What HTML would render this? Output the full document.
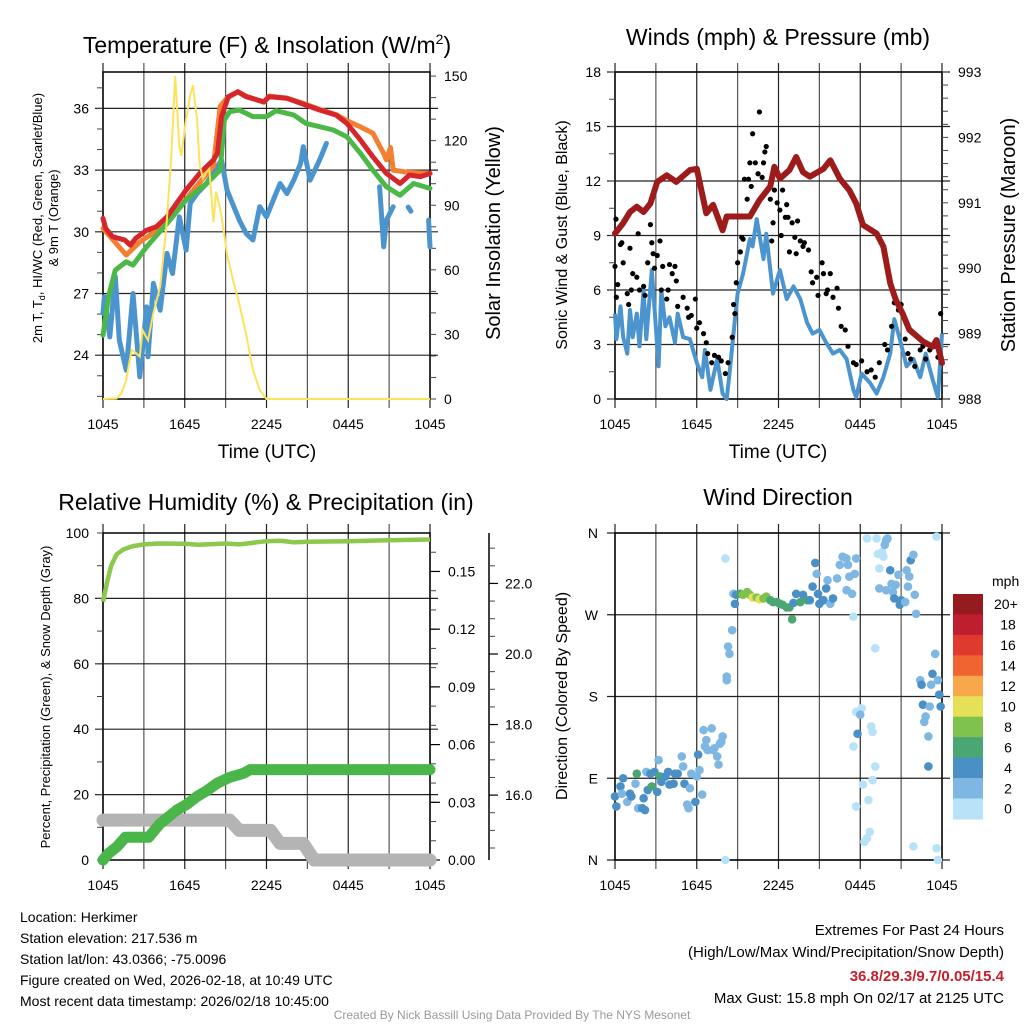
<!DOCTYPE html>
<html><head><meta charset="utf-8">
<style>
html,body{margin:0;padding:0;background:#fff;}
svg{display:block;font-family:"Liberation Sans",sans-serif;}
</style></head>
<body>
<svg id="chart" width="1024" height="1024" viewBox="0 0 1024 1024" xmlns="http://www.w3.org/2000/svg">
<rect width="1024" height="1024" fill="#fff"/>
<g id="g1"></g>
<g id="g2"></g>
<g id="g3"></g>
<g id="g4"></g>
<text x="267" y="53" font-size="23" text-anchor="middle">Temperature (F) &amp; Insolation (W/m<tspan dy="-9" font-size="14">2</tspan><tspan dy="9">)</tspan></text>
<text x="778" y="45" font-size="23" text-anchor="middle">Winds (mph) &amp; Pressure (mb)</text>
<text x="266" y="510" font-size="23" text-anchor="middle">Relative Humidity (%) &amp; Precipitation (in)</text>
<text x="778" y="505" font-size="23" text-anchor="middle">Wind Direction</text>
<text x="267" y="458" font-size="19" text-anchor="middle">Time (UTC)</text>
<text x="778" y="458" font-size="19" text-anchor="middle">Time (UTC)</text>
<text transform="translate(42,218) rotate(-90)" font-size="13" text-anchor="middle">2m T, T<tspan font-size="9" dy="3">d</tspan><tspan dy="-3">, HI/WC (Red, Green, Scarlet/Blue)</tspan></text>
<text transform="translate(58,218) rotate(-90)" font-size="13" text-anchor="middle">&amp; 9m T (Orange)</text>
<text transform="translate(500,233) rotate(-90)" font-size="20" text-anchor="middle">Solar Insolation (Yellow)</text>
<text transform="translate(567,235) rotate(-90)" font-size="16" text-anchor="middle">Sonic Wind &amp; Gust (Blue, Black)</text>
<text transform="translate(1015,235) rotate(-90)" font-size="20" text-anchor="middle">Station Pressure (Maroon)</text>
<text transform="translate(50,697) rotate(-90)" font-size="13" text-anchor="middle">Percent, Precipitation (Green), &amp; Snow Depth (Gray)</text>
<text transform="translate(567,696) rotate(-90)" font-size="16" text-anchor="middle">Direction (Colored By Speed)</text>
<g font-size="14">
<text x="20" y="922">Location: Herkimer</text>
<text x="20" y="943">Station elevation: 217.536 m</text>
<text x="20" y="964">Station lat/lon: 43.0366; -75.0096</text>
<text x="20" y="985">Figure created on Wed, 2026-02-18, at 10:49 UTC</text>
<text x="20" y="1006">Most recent data timestamp: 2026/02/18 10:45:00</text>
</g>
<g font-size="15" text-anchor="end">
<text x="1004" y="935">Extremes For Past 24 Hours</text>
<text x="1004" y="957">(High/Low/Max Wind/Precipitation/Snow Depth)</text>
<text x="1004" y="981" fill="#c8202a" font-weight="bold">36.8/29.3/9.7/0.05/15.4</text>
<text x="1004" y="1003">Max Gust: 15.8 mph On 02/17 at 2125 UTC</text>
</g>
<text x="512" y="1019" font-size="12" fill="#999" text-anchor="middle">Created By Nick Bassill Using Data Provided By The NYS Mesonet</text>
</svg>
<script>
// ---------- data ----------
const timeTickLabels = ["1045","1645","2245","0445","1045"];
const tempTicks = [24,27,30,33,36];
const insolTicks = [0,30,60,90,120,150];
const windTicks = [0,3,6,9,12,15,18];
const presTicks = [988,989,990,991,992,993];
const pctTicks = [0,20,40,60,80,100];
const precipTicks = [0,0.03,0.06,0.09,0.12,0.15];
const snowTicks = [16,18,20,22];
const dirTicks = [0,90,180,270,360];
const dirLabels = ["N","E","S","W","N"];
const speedBins = ["0","2","4","6","8","10","12","14","16","18","20+"];
const speedColors = ["#b7e2f8","#7fb7e3","#4a8fc6","#4aa673","#7fc24d","#e5e057","#f6a84b","#f06430","#df3a2d","#be1e2d","#951b1e"];

const tRedH = [0,0.2,0.7,1.6,2.0,2.4,3.2,3.9,4.7,6.1,7.1,8.1,8.4,8.7,9.2,9.9,10.5,11.8,12.2,13.5,14.9,15.9,17.1,17.9,18.9,19.8,20.8,21.8,22.5,23.3,24];
const tRedV = [30.65,30.16,29.76,29.6,29.35,29.68,30.08,30.24,30.73,32.03,32.84,33.49,33.81,35.59,36.57,36.81,36.57,36.32,36.57,36.49,36.16,35.92,35.68,35.27,34.46,33.65,32.84,32.35,32.76,32.68,32.84];
const tOrgH = [0,1.7,2.7,4.7,6.6,8.1,8.6,9.1,9.9,10.5,11.8,12.2,13.5,14.9,15.9,17.1,17.9,18.9,19.8,20.6,20.8,21.1,21.3,22.3,24];
const tOrgV = [30.16,28.87,29.5,30.4,32.0,33.2,36.1,36.5,36.8,36.6,36.3,36.6,36.5,36.2,35.95,35.7,35.4,35.1,34.8,33.8,33.5,34.1,33.0,32.9,32.84];
const tGrnH = [0,0.4,0.9,1.7,2.2,3.2,4.7,6.1,7.6,8.6,8.9,9.3,10.0,11.0,12.0,12.7,14.0,14.9,16.9,17.9,18.9,19.8,20.8,21.8,22.8,24];
const tGrnV = [24.97,26.84,28.14,28.54,28.38,29.27,30.41,31.54,32.35,33.0,35.43,35.84,35.92,35.6,35.6,35.89,35.68,35.27,34.95,34.62,33.81,33.0,32.19,31.78,32.35,32.11];
const tBluH = [0,0.1,0.5,0.9,1.2,1.7,2.2,2.7,3.2,3.3,3.7,4.2,4.7,5.1,5.6,6.1,6.4,6.9,7.6,8.7,9.1,9.6,10.0,10.5,11.0,11.5,12.0,12.5,13.0,13.5,14.0,14.5,14.7,15.2,15.9,16.4,16.5,20.3,20.6,20.8,21.3,21.4,22.4,22.6,22.7,23.9,24];
const tBluV = [26.03,26.84,24.89,27.81,24.73,23.27,27.0,22.95,26.35,23.92,27.49,26.19,28.95,27.97,30.73,29.11,31.38,31.86,32.35,33.49,32.03,31.22,30.57,29.92,29.6,31.22,30.73,31.54,32.35,31.86,32.51,33.32,34.14,32.51,33.49,34.3,null,32.19,29.27,30.57,31.22,null,31.2,31.0,null,30.57,29.27];
const insolH = [0,1.0,1.35,1.7,2.1,2.45,2.7,2.9,3.3,3.7,4.2,4.65,5.0,5.3,5.6,5.75,6.1,6.4,6.6,6.9,7.1,7.35,7.6,7.8,8.1,8.3,8.6,8.8,9.1,9.55,10.0,10.5,11.0,11.5,12.0,24];
const insolV = [0,0.3,2.6,8.8,22.8,21.2,19.7,32.0,27.3,39.9,52.3,80.2,111.3,150,117.6,112.9,130,141,145.7,130,108.6,102.4,105.5,107,82.2,96.2,88.4,80.7,67.4,55.0,44.2,30.2,13.5,4.2,0,0];

const presH = [0,0.6,1.1,1.6,2.1,2.6,3.1,3.8,4.5,5.5,6.0,6.7,7.2,7.9,8.2,8.9,9.9,10.6,11.4,11.7,12.1,12.8,13.3,13.8,14.3,15.3,15.8,16.5,17.2,17.7,18.2,19.2,19.7,20.2,20.6,21.1,21.6,22.6,23.3,23.6,24];
const presV = [990.53,990.69,990.86,990.94,990.86,990.99,991.32,991.42,991.32,991.5,991.52,990.84,990.97,990.58,990.79,990.79,990.79,991.04,991.25,991.55,991.37,991.5,991.7,991.47,991.4,991.52,991.65,991.37,991.19,990.99,990.66,990.53,990.33,989.77,989.52,989.31,989.06,988.88,988.8,988.9,988.55];
const windH = [0,0.1,0.4,0.6,0.9,1.1,1.3,1.6,1.8,2.1,2.3,2.7,3.1,3.2,3.4,3.7,4.0,4.4,4.6,5.0,5.5,6.0,6.4,6.6,7.0,7.5,7.9,8.2,8.4,8.7,9.0,9.4,9.9,10.1,10.4,10.9,11.1,11.6,12.1,12.6,13.1,13.6,14.1,14.5,15.0,15.5,16.0,16.5,17.0,17.5,17.7,18.1,18.7,19.2,19.7,20.2,20.5,20.9,21.4,21.9,22.4,22.8,23.3,23.7,24];
const windV = [4.7,3.3,5.1,3.4,2.5,4.9,3.4,4.7,2.9,6.0,3.3,7.1,2.9,1.8,6.0,4.0,4.5,3.1,4.7,3.4,3.3,2.0,1.2,2.7,0.5,2.2,0.3,0,1.4,3.6,5.8,6.9,8.8,8.4,9.9,7.7,9.1,5.8,7.1,5.5,6.2,5.5,4.2,3.6,3.8,3.1,2.5,2.7,2.2,0.5,0.1,1.4,0.9,0.3,1.2,2.5,4.4,3.3,1.8,2.2,1.2,2.5,1.1,0.1,3.6];
const gustH = [0,0.07,0.1,0.2,0.4,0.5,0.6,0.9,1.0,1.1,1.2,1.3,1.6,1.7,1.8,2.1,2.2,2.4,2.6,2.7,2.8,2.9,3.1,3.3,3.4,3.5,3.8,3.9,4.0,4.2,4.4,4.5,4.6,5.0,5.3,5.4,5.6,5.9,6.0,6.2,6.5,6.7,6.8,7.1,7.3,7.6,7.8,8.1,8.3,8.6,8.7,8.8,8.9,9.0,9.2,9.3,9.4,9.5,9.7,9.8,9.9,10.0,10.1,10.3,10.5,10.6,10.8,10.9,11.0,11.1,11.4,11.5,11.6,11.7,11.9,12.1,12.2,12.3,12.5,12.6,12.7,12.8,13.0,13.2,13.3,13.4,13.6,13.8,13.9,14.2,14.4,14.5,14.8,14.9,15.2,15.3,15.5,15.6,15.8,16.0,16.3,16.4,16.6,16.9,17.1,17.5,17.7,18.1,18.5,18.8,19.1,19.4,19.8,20.0,20.3,20.5,20.8,21.0,21.3,21.5,21.7,22.0,22.4,22.6,22.8,23.1,23.5,23.7,23.9];
const gustV = [7.3,9.9,5.6,6.3,8.5,8.6,7.5,5.8,5.2,8.3,6.0,6.9,6.7,9.1,6.0,6.2,5.7,7.5,9.6,8.6,8.0,7.2,7.9,8.7,6.0,7.3,5.5,6.0,7.4,6.9,7.3,6.5,5.1,5.6,5.0,4.5,4.6,5.5,3.9,4.2,3.6,3.1,2.5,2.0,2.4,2.3,2.1,1.4,2.0,3.4,5.2,4.7,6.4,7.5,8.1,8.9,8.8,12.1,11.0,12.1,13.0,11.7,14.6,13.0,12.4,15.8,12.2,13.0,13.6,13.9,11.0,8.7,9.7,11.5,10.8,10.4,9.0,11.5,10.0,10.7,10.0,8.1,9.7,8.9,8.0,9.8,8.7,8.4,8.6,8.2,7.0,6.4,6.7,5.7,7.5,6.9,5.8,6.0,6.9,5.6,6.1,5.0,4.0,3.8,2.9,2.0,1.9,2.1,1.5,1.6,1.2,2.0,3.0,2.7,4.0,5.3,4.9,5.2,3.3,2.5,2.2,1.8,2.7,2.9,2.2,2.7,2.9,2.3,4.7];

const rhH = [0,0.3,0.6,1.0,1.5,2.2,3.0,4.0,6.0,7.0,9.0,10.0,12.0,13.0,14.0,15.0,18.0,21.0,24];
const rhV = [79,85,90,93.5,95,96,96.5,96.8,96.7,96.4,96.8,96.5,97.5,97.6,97.2,97.3,97.5,97.8,98];
const precipH = [0,0.42,1.03,1.64,3.35,4.2,5.43,6.16,6.9,7.6,8.4,9.3,10.3,10.8,24];
const precipV = [0,0.0035,0.0069,0.0118,0.0118,0.019,0.026,0.029,0.033,0.036,0.040,0.043,0.045,0.047,0.047];
const snowH = [0,9.3,10.0,12.3,13.0,14.7,15.5,24];
const snowV = [15.29,15.29,15.0,15.0,14.63,14.63,14.16,14.16];

const dirH = [0,0.1,0.4,0.5,0.6,0.9,1.1,1.2,1.5,1.6,1.7,2.0,2.1,2.2,2.3,2.4,2.6,2.7,2.9,3.1,3.2,3.3,3.4,3.7,3.9,4.0,4.3,4.4,4.6,4.9,5.0,5.1,5.3,5.4,5.5,5.6,5.9,6.0,6.1,6.2,6.4,6.5,6.6,6.7,6.8,7.1,7.2,7.3,7.5,7.6,7.7,7.8,7.9,8.1,8.1,8.2,8.2,8.3,8.4,8.6,8.7,8.8,8.9,9.2,9.4,9.7,9.9,10.1,10.4,10.6,10.9,11.1,11.4,11.6,11.9,12.1,12.3,12.6,12.8,13.0,13.1,13.3,13.6,13.8,14.1,14.3,14.5,14.7,14.8,14.9,15.0,15.3,15.5,15.6,15.8,16.0,16.3,16.5,16.7,16.98,17.1,17.2,17.0,17.4,17.5,17.6,17.7,18.1,17.7,17.8,18.0,17.5,18.2,17.7,18.5,18.6,18.7,18.5,18.3,18.8,18.9,19.1,18.9,19.1,19.2,19.3,19.4,19.6,19.7,19.8,19.9,20.0,20.2,19.4,19.9,20.3,20.4,20.5,20.6,20.8,21.0,20.9,21.3,21.5,21.4,21.6,21.7,21.9,22.0,22.1,21.9,22.4,22.5,22.6,22.7,22.8,23.0,23.0,23.1,23.2,23.3,23.5,23.7,23.8,23.9,23.6,23.6,23.7];
const dirV = [70,59,81,73,90,64,73,70,84,95,57,57,68,55,97,77,95,81,97,75,110,92,86,92,97,83,84,95,95,114,103,84,61,57,79,95,64,92,116,99,72,143,125,132,121,145,121,123,114,105,128,130,136,0,332,198,202,235,227,253,293,282,292,293,292,295,292,289,289,287,288,290,286,284,284,282,281,278,278,265,283,293,284,292,286,286,301,327,315,293,282,286,299,308,282,288,310,325,334,332,325,312,297,293,268,315,332,167,163,139,160,125,83,59,354,66,31,24,20,147,141,103,88,233,354,337,321,339,334,347,352,354,319,299,297,304,295,288,303,314,286,281,284,301,319,312,330,336,292,271,15,198,193,171,152,158,136,103,169,193,205,227,198,182,169,356,13,0];
const dirS = [4,4,4,3,4,3,4,4,3,7,3,4,4,4,3,4,4,7,4,4,3,7,4,4,4,4,4,4,4,3,3,4,3,3,3,2,4,3,4,2,2,2,3,3,2,2,3,2,3,3,3,2,2,1,1,2,2,2,3,3,3,4,5,7,8,8,8,10,8,10,8,8,7,6,6,6,6,6,6,6,4,4,6,4,6,4,4,4,3,4,4,4,4,3,3,4,3,3,3,3,3,3,3,2,1,2,2,1,1,4,2,1,1,1,1,1,1,1,1,1,1,1,1,1,1,1,1,1,1,2,3,3,4,3,2,3,3,4,3,3,4,4,3,3,2,3,4,2,3,3,1,2,4,4,2,3,3,4,3,3,4,2,2,5,4,1,1,1];

// ---------- helpers ----------
const NS = "http://www.w3.org/2000/svg";
function mk(parent, tag, attrs){ const e=document.createElementNS(NS,tag); for(const k in attrs) e.setAttribute(k,attrs[k]); parent.appendChild(e); return e; }
function lin(d0,d1,p0,p1){ return v => p0 + (v-d0)*(p1-p0)/(d1-d0); }
function pathFrom(hs, vs, sx, sy){
  let d="", pen=false;
  for(let i=0;i<hs.length;i++){
    if(vs[i]===null){pen=false;continue;}
    d += (pen?"L":"M") + sx(hs[i]).toFixed(1)+","+sy(vs[i]).toFixed(1);
    pen=true;
  }
  return d;
}
function frame(g, X0,X1,Y0,Y1, hLines){
  const sx = lin(0,24,X0,X1);
  for(let h=0;h<=24;h+=3){
    const x=sx(h);
    const l=mk(g,"line",{x1:x,x2:x,y1:Y0-9,y2:Y1+9,stroke:(h%6===0?"#222":"#555"),"stroke-width":1.2});
    
    
  }
  hLines.forEach(y=>{
    const l=mk(g,"line",{x1:X0-8,x2:X1+8,y1:y,y2:y,stroke:"#222","stroke-width":1.2});
    
    
  });
  mk(g,"rect",{x:X0,y:Y0,width:X1-X0,height:Y1-Y0,fill:"none",stroke:"#000","stroke-width":1.5});
  timeTickLabels.forEach((t,i)=>{
    const tx=mk(g,"text",{x:sx(i*6),y:Y1+30,"font-size":14,"text-anchor":"middle"});
    tx.textContent=t;
    
    
  });
  return sx;
}
function yLabels(g, ticks, sy, x, anchor, fmt){
  ticks.forEach(v=>{
    const t=mk(g,"text",{x:x,y:sy(v)+5,"font-size":14,"text-anchor":anchor});
    t.textContent=fmt?fmt(v):v;
    
    
  });
}
function minorTicks(g, x, dir, lo, hi, step, sy){
  for(let v=lo; v<=hi+1e-9; v+=step){
    mk(g,"line",{x1:x,x2:x+dir*6,y1:sy(v),y2:sy(v),stroke:"#444","stroke-width":1});
  }
}

// ---------- panel 1 ----------
(function(){
  const g=document.getElementById("g1");
  const X0=103,X1=430,Y0=72,Y1=399;
  const syT=lin(21.87,37.77,Y1,Y0), syI=lin(0,151.9,Y1,Y0);
  const sx=frame(g,X0,X1,Y0,Y1,tempTicks.map(syT));
  minorTicks(g,X0,-1,22,37,1,syT);
  minorTicks(g,X1,1,0,150,10,syI);
  yLabels(g,tempTicks,syT,X0-14,"end");
  yLabels(g,insolTicks,syI,X1+14,"start");
  const series=[[tBluH,tBluV,"#4b94cd",5,"dewpoint-line"],[tOrgH,tOrgV,"#f28030",5,"9m-temperature-line"],[tGrnH,tGrnV,"#4cb848",5,"heat-index-line"],[tRedH,tRedV,"#d7262b",5,"2m-temperature-line"]];
  series.forEach(s=>{
    const p=mk(g,"path",{d:pathFrom(s[0],s[1],sx,syT),fill:"none",stroke:s[2],"stroke-width":s[3],"stroke-linejoin":"round","stroke-linecap":"round"});
    
    
  });
  const ins=mk(g,"path",{d:pathFrom(insolH,insolV,sx,syI),fill:"none",stroke:"#fde35a","stroke-width":2});
  
  
})();

// ---------- panel 2 ----------
(function(){
  const g=document.getElementById("g2");
  const X0=615,X1=942,Y0=72,Y1=399;
  const syW=lin(0,18,Y1,Y0), syP=lin(988,993,Y1,Y0);
  const sx=frame(g,X0,X1,Y0,Y1,windTicks.map(syW));
  minorTicks(g,X0,-1,0,18,1.5,syW);
  minorTicks(g,X1,1,988,993,0.2,syP);
  yLabels(g,windTicks,syW,X0-14,"end");
  yLabels(g,presTicks,syP,X1+16,"start");
  const w=mk(g,"path",{d:pathFrom(windH,windV,sx,syW),fill:"none",stroke:"#4b94cd","stroke-width":4,"stroke-linejoin":"round"});
  
  
  gustH.forEach((h,i)=>{
    const c=mk(g,"circle",{cx:sx(h),cy:syW(gustV[i]),r:2.6,fill:"#000"});
    
    
  });
  const p=mk(g,"path",{d:pathFrom(presH,presV,sx,syP),fill:"none",stroke:"#9e1b1b","stroke-width":6,"stroke-linejoin":"round","stroke-linecap":"round"});
  
  
})();

// ---------- panel 3 ----------
(function(){
  const g=document.getElementById("g3");
  const X0=103,X1=430,Y0=533,Y1=860;
  const syR=lin(0,100,Y1,Y0), syPr=lin(0,0.17,Y1,Y0), syS=lin(14.16,23.43,Y1,Y0);
  const sx=frame(g,X0,X1,Y0,Y1,[20,40,60,80].map(syR));
  minorTicks(g,X0,-1,0,100,10,syR);
  minorTicks(g,X1,1,0,0.165,0.01,syPr);
  for(const v of precipTicks) mk(g,"line",{x1:X1,x2:X1+10,y1:syPr(v),y2:syPr(v),stroke:"#000","stroke-width":1.2});
  yLabels(g,pctTicks,syR,X0-14,"end");
  yLabels(g,precipTicks,syPr,X1+18,"start",v=>v.toFixed(2));
  const ax=mk(g,"line",{x1:489,x2:489,y1:Y0,y2:Y1,stroke:"#000","stroke-width":1.5});
  
  
  minorTicks(g,489,1,14.5,23,0.5,syS);
  for(const v of snowTicks) mk(g,"line",{x1:489,x2:498,y1:syS(v),y2:syS(v),stroke:"#000","stroke-width":1.2});
  yLabels(g,snowTicks,syS,505,"start",v=>v.toFixed(1));
  const s=mk(g,"path",{d:pathFrom(snowH,snowV,sx,syS),fill:"none",stroke:"#b4b4b4","stroke-width":13,"stroke-linejoin":"round","stroke-linecap":"round"});
  
  
  const pr=mk(g,"path",{d:pathFrom(precipH,precipV,sx,syPr),fill:"none",stroke:"#4ab548","stroke-width":11,"stroke-linejoin":"round","stroke-linecap":"round"});
  
  
  const rh=mk(g,"path",{d:pathFrom(rhH,rhV,sx,syR),fill:"none",stroke:"#8cc84b","stroke-width":4.5,"stroke-linejoin":"round"});
  
  
})();

// ---------- panel 4 ----------
(function(){
  const g=document.getElementById("g4");
  const X0=615,X1=942,Y0=533,Y1=860;
  const syD=lin(0,360,Y1,Y0);
  const sx=frame(g,X0,X1,Y0,Y1,dirTicks.map(syD));
  dirTicks.forEach((v,i)=>{
    const t=mk(g,"text",{x:598,y:syD(v)+5,"font-size":14,"text-anchor":"end"});
    t.textContent=dirLabels[i];
    
    
  });
  dirH.forEach((h,i)=>{
    const bin=Math.min(10,Math.floor(dirS[i]/2));
    const c=mk(g,"circle",{cx:sx(h),cy:syD(dirV[i]),r:4.3,fill:speedColors[bin]});
    
    
  });
  // colorbar
  const cbTop=594, bh=20.45;
  const mph=mk(g,"text",{x:992,y:586,"font-size":14});
  mph.textContent="mph";
  
  
  for(let k=0;k<speedBins.length;k++){
    const idx=speedBins.length-1-k;
    const r=mk(g,"rect",{x:953,y:cbTop+k*bh,width:30,height:bh+0.5,fill:speedColors[idx]});
    
    
    const t=mk(g,"text",{x:idx===10?994:1008,y:cbTop+k*bh+bh/2+5,"font-size":14,"text-anchor":idx===10?"start":"middle"});
    t.textContent=speedBins[idx];
    
    
  }
})();
</script>
</body></html>
